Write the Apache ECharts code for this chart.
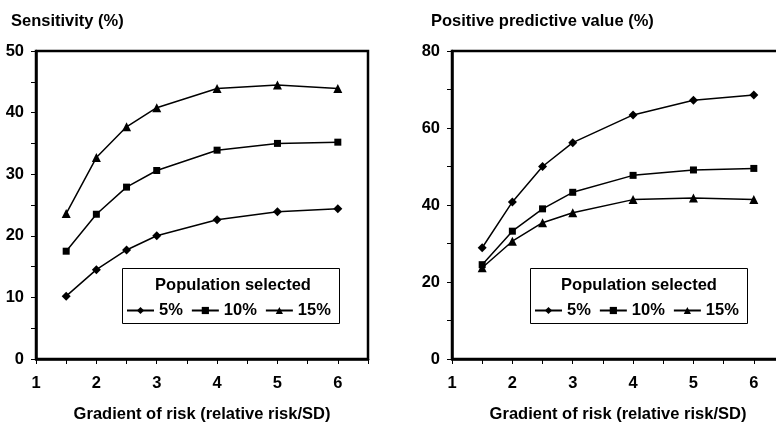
<!DOCTYPE html>
<html>
<head>
<meta charset="utf-8">
<script src="https://cdn.jsdelivr.net/npm/echarts@6/dist/echarts.min.js"></script>
<style>
  html, body { margin: 0; padding: 0; background: #fff; }
  #chart { width: 776px; height: 424px; }
</style>
</head>
<body>
<div id="chart"></div>
<script>
// Gradient of risk (relative risk per SD)
const gradient = [1.5, 2, 2.5, 3, 4, 5, 6];

// Sensitivity (%) by proportion of population selected
const sens5  = [10.2, 14.5, 17.7, 20.0, 22.6, 23.9, 24.4];
const sens10 = [17.5, 23.5, 27.9, 30.6, 33.9, 35.0, 35.2];
const sens15 = [23.6, 32.7, 37.7, 40.8, 43.9, 44.5, 43.9];

// Positive predictive value (%) by proportion of population selected
const ppv5  = [28.9, 40.8, 50.0, 56.2, 63.4, 67.2, 68.6];
const ppv10 = [24.5, 33.2, 39.0, 43.3, 47.7, 49.1, 49.5];
const ppv15 = [23.7, 30.6, 35.4, 38.0, 41.4, 41.8, 41.4];

const groupNames = ['5%', '10%', '15%'];
const markers = ['diamond', 'rect', 'triangle'];
const markerSizes = [9, 7, 9];

const FONT = 'Liberation Sans, Arial, sans-serif';
const txt = { fontFamily: FONT, fontWeight: 'bold', fontSize: 16.5, color: '#000' };

const pair = vals => gradient.map((g, i) => [g, vals[i]]);

function xAxis(gridIndex) {
  return {
    type: 'value', gridIndex, min: 1, max: 6.5, interval: 0.5,
    name: 'Gradient of risk (relative risk/SD)',
    nameLocation: 'middle', nameGap: 47,
    nameTextStyle: txt,
    axisLine: { lineStyle: { color: '#000', width: 2.5 } },
    axisTick: { show: true, length: 5, lineStyle: { color: '#000', width: 1 } },
    axisLabel: Object.assign({}, txt, {
      margin: 16,
      formatter: v => (Number.isInteger(v) && v <= 6 ? String(v) : '')
    }),
    splitLine: { show: false }
  };
}

function yAxis(gridIndex, max, step, labelStep) {
  return {
    type: 'value', gridIndex, min: 0, max, interval: step,
    axisLine: { show: true, lineStyle: { color: '#000', width: 2.5 } },
    axisTick: { show: true, length: 5, lineStyle: { color: '#000', width: 1 } },
    axisLabel: Object.assign({}, txt, {
      margin: 12,
      formatter: v => (v % labelStep === 0 ? String(v) : '')
    }),
    splitLine: { show: false }
  };
}

function lineSeries(name, vals, k, idx) {
  return {
    type: 'line', name, data: pair(vals),
    xAxisIndex: idx, yAxisIndex: idx,
    symbol: markers[k], symbolSize: markerSizes[k],
    lineStyle: { color: '#000', width: 1.5 },
    itemStyle: { color: '#000' },
    animation: false
  };
}

const sensSets = [sens5, sens10, sens15];
const ppvSets = [ppv5, ppv10, ppv15];
const series = [];
groupNames.forEach((n, k) => series.push(lineSeries(n, sensSets[k], k, 0)));
groupNames.forEach((n, k) => series.push(lineSeries(n, ppvSets[k], k, 1)));

function legendAt(left) {
  return {
    left, top: 302, orient: 'horizontal', padding: 0,
    data: groupNames, selectedMode: false,
    itemWidth: 27, itemHeight: 9, itemGap: 8,
    textStyle: txt, z: 10
  };
}

// The right panel runs a little past the page edge, so its outer frame is clipped
const gridBase = { top: 51, width: 332, height: 308, show: true, borderColor: '#000', borderWidth: 2.5, backgroundColor: 'transparent', outerBoundsMode: 'none', containLabel: false };

const chart = echarts.init(document.getElementById('chart'), null, { renderer: 'canvas' });
chart.setOption({
  backgroundColor: '#fff',
  animation: false,
  title: [
    { text: 'Sensitivity (%)', left: 6, top: 8, textStyle: txt },
    { text: 'Positive predictive value (%)', left: 426, top: 8, textStyle: txt }
  ],
  grid: [
    Object.assign({ left: 36 }, gridBase),
    Object.assign({ left: 452 }, gridBase)
  ],
  xAxis: [xAxis(0), xAxis(1)],
  yAxis: [yAxis(0, 50, 5, 10), yAxis(1, 80, 10, 20)],
  legend: [legendAt(126), legendAt(534)],
  graphic: [
    { type: 'rect', shape: { x: 122.5, y: 268.5, width: 217, height: 55 }, style: { fill: '#fff', stroke: '#000', lineWidth: 1 }, z: 3 },
    { type: 'text', x: 233, y: 285, style: { text: 'Population selected', textAlign: 'center', textVerticalAlign: 'middle', fill: '#000', font: 'bold 16.5px ' + FONT }, z: 6 },
    { type: 'rect', shape: { x: 530.5, y: 268.5, width: 217, height: 55 }, style: { fill: '#fff', stroke: '#000', lineWidth: 1 }, z: 3 },
    { type: 'text', x: 639, y: 285, style: { text: 'Population selected', textAlign: 'center', textVerticalAlign: 'middle', fill: '#000', font: 'bold 16.5px ' + FONT }, z: 6 }
  ],
  series
});
</script>
</body>
</html>
